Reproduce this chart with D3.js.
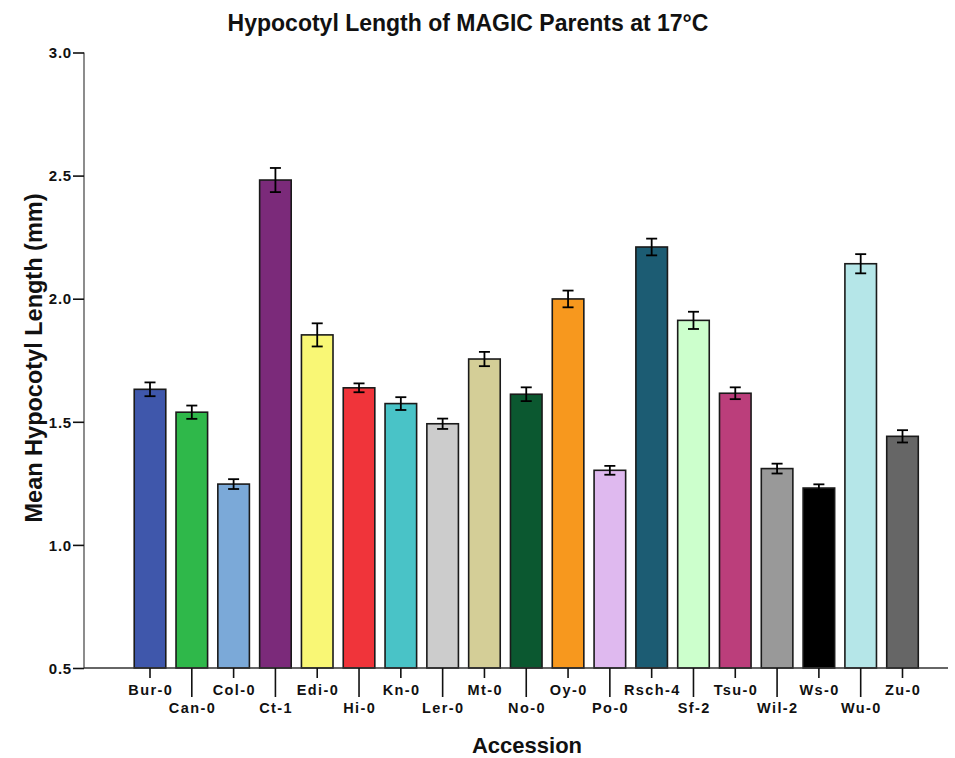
<!DOCTYPE html>
<html>
<head>
<meta charset="utf-8">
<script src="https://cdn.jsdelivr.net/npm/d3@7"></script>
<style>
  html, body { margin: 0; padding: 0; background: #fff; }
  svg { display: block; font-family: "Liberation Sans", Arial, sans-serif; }
</style>
</head>
<body>
<svg id="chart" width="955" height="758"></svg>
<script>
// Accessions (MAGIC parents)
const accessions = ["Bur-0","Can-0","Col-0","Ct-1","Edi-0","Hi-0","Kn-0","Ler-0","Mt-0","No-0",
                    "Oy-0","Po-0","Rsch-4","Sf-2","Tsu-0","Wil-2","Ws-0","Wu-0","Zu-0"];
// Mean hypocotyl length (mm)
const meanLength = [1.632,1.539,1.247,2.482,1.853,1.638,1.574,1.492,1.755,1.612,
                    1.999,1.303,2.210,1.912,1.616,1.310,1.231,2.142,1.441];
// Error (± mm)
const errLength = [0.028,0.027,0.020,0.049,0.047,0.018,0.026,0.021,0.029,0.028,
                   0.034,0.018,0.034,0.035,0.024,0.020,0.015,0.039,0.025];
// Bar fill colours
const barColors = ["#3f57ab","#2fb84a","#7ba9d8","#7b2a7a","#f9f775","#f0343a","#49c3c7","#cccccc",
                   "#d4ce97","#0b5830","#f7981e","#dfb9ef","#1c5c73","#ccffcc","#bb3e7b","#999999",
                   "#000000","#b5e6e8","#666666"];
// Y axis ticks
const yTicks = [0.5, 1.0, 1.5, 2.0, 2.5, 3.0];

const svg = d3.select("#chart");

const x = d3.scaleBand()
  .domain(accessions)
  .range([129.1, 923.4])
  .paddingInner(0.245)
  .paddingOuter(0.1225);

const y = d3.scaleLinear().domain([0.5, 3.0]).range([668, 52.5]);

const data = accessions.map((a, i) => ({ name: a, v: meanLength[i], e: errLength[i], c: barColors[i], i }));

// Bars
svg.append("g").selectAll("rect")
  .data(data).join("rect")
  .attr("x", d => x(d.name))
  .attr("y", d => y(d.v))
  .attr("width", x.bandwidth())
  .attr("height", d => y(0.5) - y(d.v))
  .attr("fill", d => d.c)
  .attr("stroke", "#1a1a1a")
  .attr("stroke-width", 1.6);

// Error bars
const eb = svg.append("g").attr("stroke", "#000").attr("stroke-width", 1.8);
data.forEach(d => {
  const cx = x(d.name) + x.bandwidth() / 2;
  eb.append("line").attr("x1", cx).attr("x2", cx).attr("y1", y(d.v + d.e)).attr("y2", y(d.v - d.e));
  eb.append("line").attr("x1", cx - 5.5).attr("x2", cx + 5.5).attr("y1", y(d.v + d.e)).attr("y2", y(d.v + d.e));
  eb.append("line").attr("x1", cx - 5.5).attr("x2", cx + 5.5).attr("y1", y(d.v - d.e)).attr("y2", y(d.v - d.e));
});

// Y axis
const yAxis = svg.append("g").attr("transform", "translate(84,0)")
  .call(d3.axisLeft(y).tickValues(yTicks).tickFormat(d3.format(".1f")).tickSize(11).tickPadding(1));
yAxis.select(".domain").attr("stroke", "#707070").attr("stroke-width", 1.6).attr("d", "M0,52.5V668");
yAxis.selectAll(".tick line").attr("stroke", "#111").attr("stroke-width", 1.6);
yAxis.selectAll(".tick text")
  .attr("fill", "#111")
  .style("font-size", "15px").style("font-weight", "bold")
  .style("letter-spacing", "0.8px")
  .attr("dy", "0.35em");

// X axis
const xAxis = svg.append("g").attr("transform", "translate(0,668)")
  .call(d3.axisBottom(x).tickSize(0).tickPadding(0));
xAxis.select(".domain").attr("stroke", "#333").attr("stroke-width", 1.6).attr("d", "M84,0H948");
xAxis.selectAll(".tick line")
  .attr("stroke", "#111").attr("stroke-width", 1.6)
  .attr("y2", (d, i) => i % 2 === 0 ? 10 : 29);
xAxis.selectAll(".tick text")
  .attr("fill", "#111")
  .style("font-size", "14.5px").style("font-weight", "bold")
  .style("letter-spacing", "1.4px")
  .attr("dx", "0.7px")
  .attr("dy", null)
  .attr("y", (d, i) => i % 2 === 0 ? 27 : 45);

// Titles
svg.append("text")
  .attr("x", 468).attr("y", 31)
  .attr("text-anchor", "middle")
  .style("font-size", "23px").style("font-weight", "bold").attr("fill", "#111")
  .text("Hypocotyl Length of MAGIC Parents at 17°C");

svg.append("text")
  .attr("x", 527).attr("y", 753)
  .attr("text-anchor", "middle")
  .style("font-size", "22px").style("font-weight", "bold").attr("fill", "#111")
  .text("Accession");

svg.append("text")
  .attr("transform", "translate(42,358) rotate(-90)")
  .attr("text-anchor", "middle")
  .style("font-size", "23.5px").style("font-weight", "bold").attr("fill", "#111")
  .text("Mean Hypocotyl Length (mm)");
</script>
</body>
</html>
